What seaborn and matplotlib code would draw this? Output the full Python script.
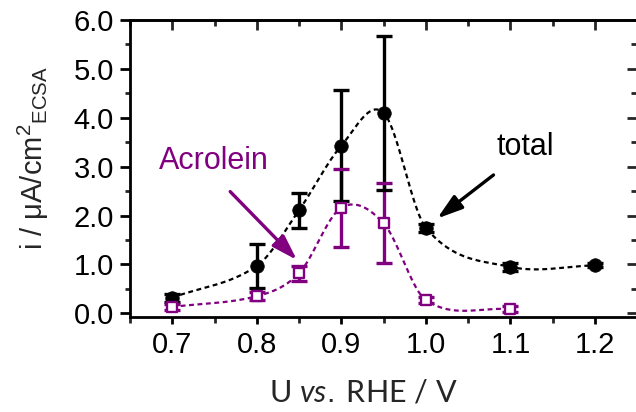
import numpy as np
import pandas as pd
import matplotlib
matplotlib.use("Agg")
import matplotlib.pyplot as plt
import seaborn as sns
from matplotlib.ticker import MultipleLocator, FormatStrFormatter

# ---- data ----
potential_total = [0.70, 0.80, 0.85, 0.90, 0.95, 1.00, 1.10, 1.20]
current_total = [0.32, 0.97, 2.11, 3.43, 4.10, 1.75, 0.95, 0.98]
error_total = [0.08, 0.45, 0.36, 1.13, 1.57, 0.08, 0.08, 0.04]

potential_acrolein = [0.70, 0.80, 0.85, 0.90, 0.95, 1.00, 1.10]
current_acrolein = [0.13, 0.35, 0.82, 2.16, 1.84, 0.27, 0.08]
error_acrolein = [0.06, 0.08, 0.15, 0.80, 0.82, 0.06, 0.06]

x_ticks = [0.7, 0.8, 0.9, 1.0, 1.1, 1.2]
y_ticks = [0.0, 1.0, 2.0, 3.0, 4.0, 5.0, 6.0]

label_total = "total"
label_acrolein = "Acrolein"
x_label = r"U $\mathit{vs.}\;$RHE / V"
y_label = r"i / μA/cm$^2$$_{\mathregular{ECSA}}$"

PURPLE = "#800080"
BLACK = "#000000"


def smooth(x, y, n=60):
    """Cubic Hermite (Catmull-Rom style) curve through the data points."""
    x = np.asarray(x, float)
    y = np.asarray(y, float)
    m = np.empty_like(y)
    m[1:-1] = (y[2:] - y[:-2]) / (x[2:] - x[:-2])
    m[0] = (y[1] - y[0]) / (x[1] - x[0])
    m[-1] = (y[-1] - y[-2]) / (x[-1] - x[-2])
    xs, ys = [], []
    for i in range(len(x) - 1):
        h = x[i + 1] - x[i]
        t = np.linspace(0, 1, n, endpoint=(i == len(x) - 2))
        h00 = 2 * t**3 - 3 * t**2 + 1
        h10 = t**3 - 2 * t**2 + t
        h01 = -2 * t**3 + 3 * t**2
        h11 = t**3 - t**2
        xs.append(x[i] + t * h)
        ys.append(h00 * y[i] + h10 * h * m[i] + h01 * y[i + 1] + h11 * h * m[i + 1])
    return np.concatenate(xs), np.concatenate(ys)


sns.set_theme(style="ticks")
plt.rcParams.update({
    "font.family": ["Liberation Sans", "DejaVu Sans"],
    "mathtext.fontset": "custom",
    "mathtext.rm": "Liberation Sans",
    "mathtext.it": "Lato:italic",
    "mathtext.default": "regular",
    "axes.linewidth": 2.0,
})

fig = plt.figure(figsize=(6.36, 4.12), dpi=100)
ax = fig.add_axes([0.2044, 0.2313, 0.7975, 0.7201])

dash = (0, (2.2, 1.6))

# smooth dashed connecting curves
for xv, yv, col in [(potential_acrolein, current_acrolein, PURPLE),
                    (potential_total, current_total, BLACK)]:
    sx, sy = smooth(xv, yv)
    curve = pd.DataFrame({"U": sx, "i": sy})
    sns.lineplot(data=curve, x="U", y="i", ax=ax, color=col, lw=1.6,
                 linestyle=dash, sort=False, estimator=None, zorder=2)

# error bars
eb_a = ax.errorbar(potential_acrolein, current_acrolein, yerr=error_acrolein,
                   fmt="none", ecolor=PURPLE, elinewidth=2.4, capsize=6,
                   capthick=2.4, zorder=3)
eb_t = ax.errorbar(potential_total, current_total, yerr=error_total,
                   fmt="none", ecolor=BLACK, elinewidth=2.4, capsize=6,
                   capthick=2.4, zorder=4)
for cap in eb_a[1]:
    cap.set_zorder(5)

# markers
df_t = pd.DataFrame({"U": potential_total, "i": current_total})
df_a = pd.DataFrame({"U": potential_acrolein, "i": current_acrolein})
sns.scatterplot(data=df_t, x="U", y="i", ax=ax, marker="o", s=95,
                color=BLACK, edgecolor=BLACK, linewidth=0.5, zorder=6)
sns.scatterplot(data=df_a, x="U", y="i", ax=ax, marker="s", s=55,
                color="white", edgecolor=PURPLE, linewidth=1.7, zorder=6)

# annotations
arrow_style = "-|>,head_length=1.1,head_width=0.35"
ax.annotate("", xy=(0.8475, 1.09), xytext=(0.7685, 2.49),
            arrowprops=dict(arrowstyle=arrow_style, mutation_scale=14,
                            color=PURPLE, lw=2.4, shrinkA=0, shrinkB=0), zorder=7)
ax.text(0.749, 3.11, label_acrolein, color=PURPLE, fontsize=22,
        ha="center", va="center")
ax.annotate("", xy=(1.0134, 1.94), xytext=(1.080, 2.83),
            arrowprops=dict(arrowstyle=arrow_style, mutation_scale=14,
                            color=BLACK, lw=2.4, shrinkA=0, shrinkB=0), zorder=7)
ax.text(1.117, 3.40, label_total, color=BLACK, fontsize=22,
        ha="center", va="center")

# axes limits and ticks
ax.set_xlim(0.65, 1.25)
ax.set_ylim(-0.07, 6.0)
ax.set_xticks(x_ticks)
ax.set_yticks(y_ticks)
ax.xaxis.set_major_formatter(FormatStrFormatter("%.1f"))
ax.yaxis.set_major_formatter(FormatStrFormatter("%.1f"))
ax.xaxis.set_minor_locator(MultipleLocator(0.05))
ax.yaxis.set_minor_locator(MultipleLocator(0.5))
ax.tick_params(axis="x", which="major", direction="out", length=5, width=2,
               labelsize=21, pad=5, colors="black")
ax.tick_params(axis="x", which="minor", direction="out", length=4, width=2)
ax.tick_params(axis="y", which="major", direction="out", length=7.5, width=2,
               labelsize=21, pad=4, colors="black")
ax.tick_params(axis="y", which="minor", direction="out", length=3.8, width=2)
for s in ax.spines.values():
    s.set_color("black")
    s.set_linewidth(2)

# inward ticks on top and right
top = ax.secondary_xaxis("top")
top.set_xticks(x_ticks)
top.xaxis.set_minor_locator(MultipleLocator(0.05))
top.tick_params(which="major", direction="in", length=7.5, width=2, labeltop=False)
top.tick_params(which="minor", direction="in", length=4.5, width=2)
top.spines["top"].set_linewidth(2)
right = ax.secondary_yaxis("right")
right.set_yticks(y_ticks)
right.yaxis.set_minor_locator(MultipleLocator(0.5))
right.tick_params(which="major", direction="in", length=7.5, width=2, labelright=False)
right.tick_params(which="minor", direction="in", length=4.5, width=2)
right.spines["right"].set_linewidth(2)

# axis labels
ax.set_xlabel(x_label, fontsize=22, family=["Lato", "DejaVu Sans"])
ax.xaxis.set_label_coords(0.461, -0.254)
ax.xaxis.label.set_va("center")
ax.set_ylabel(y_label, fontsize=21)
ax.yaxis.set_label_coords(-0.191, 0.535)
ax.yaxis.label.set_va("center")

fig.savefig("out.png", dpi=100)
